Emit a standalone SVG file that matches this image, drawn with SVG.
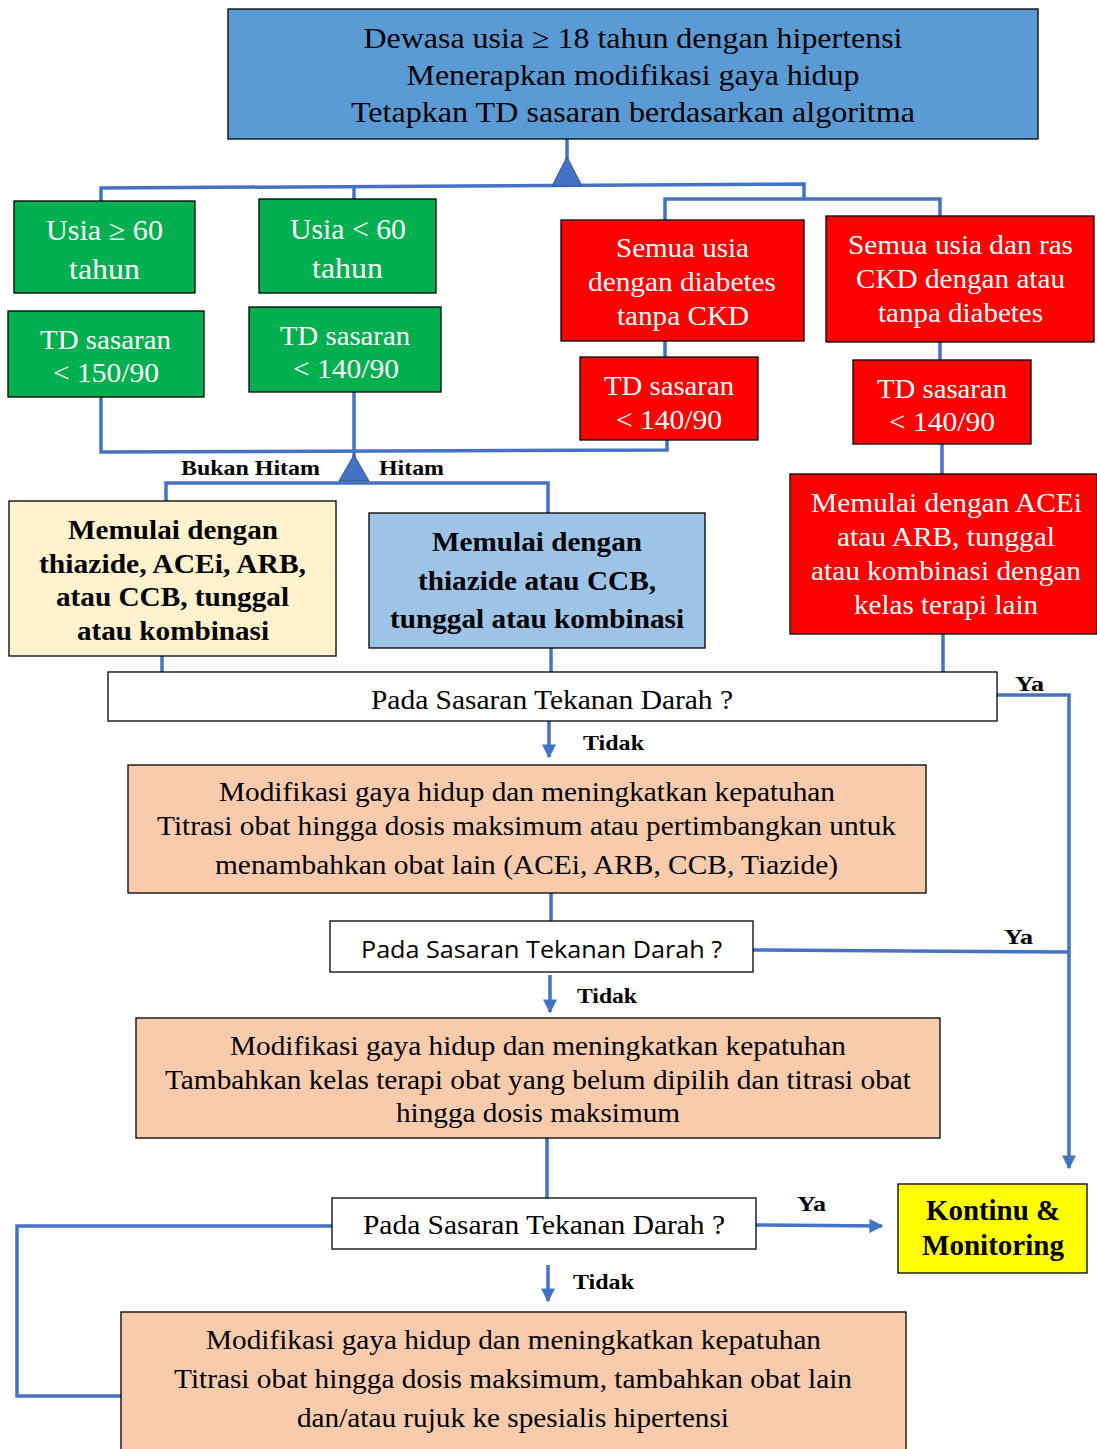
<svg xmlns="http://www.w3.org/2000/svg" width="1097" height="1449" viewBox="0 0 1097 1449">
<style>
.bx{stroke:#000;stroke-width:1.3}
.t{font-family:"Liberation Serif","Times New Roman",serif;text-anchor:middle}
.w{fill:#fff}
.k{fill:#000}
.b{font-weight:bold}
.c{fill:none;stroke:#4472C4;stroke-width:3.5}
.lbl{font-family:"Liberation Serif",serif;font-weight:bold;font-size:21px;fill:#000}
</style>
<defs>
<marker id="ah" viewBox="0 0 10 10" refX="9" refY="5" markerWidth="4" markerHeight="4" orient="auto" markerUnits="strokeWidth">
<path d="M0,0 L10,5 L0,10 z" fill="#4472C4"/>
</marker>
</defs>
<rect width="1097" height="1449" fill="#fff"/>

<g id="connectors">
<line class="c" x1="567" y1="139" x2="567" y2="160"/>
<polyline class="c" points="101,201 101,188 804,184 804,199"/>
<line class="c" x1="354" y1="188" x2="354" y2="199"/>
<polyline class="c" points="665,220 665,199 940,199 940,216"/>
<line class="c" x1="665" y1="341" x2="665" y2="357"/>
<line class="c" x1="940" y1="342" x2="940" y2="360"/>
<line class="c" x1="942" y1="444" x2="942" y2="474"/>
<polyline class="c" points="101,397 101,452 667,450 667,440"/>
<line class="c" x1="354" y1="392" x2="354" y2="458"/>
<polyline class="c" points="166,501 166,483 548,483 548,513"/>
<line class="c" x1="162" y1="656" x2="162" y2="672"/>
<line class="c" x1="551" y1="648" x2="551" y2="672"/>
<line class="c" x1="943" y1="634" x2="943" y2="672"/>
<polyline class="c" points="997,695 1069,695 1069,1168" marker-end="url(#ah)"/>
<line class="c" x1="549" y1="721" x2="549" y2="757" marker-end="url(#ah)"/>
<line class="c" x1="551" y1="893" x2="551" y2="921"/>
<line class="c" x1="753" y1="950" x2="1069" y2="952"/>
<line class="c" x1="550" y1="975" x2="550" y2="1012" marker-end="url(#ah)"/>
<line class="c" x1="547" y1="1138" x2="547" y2="1198"/>
<line class="c" x1="756" y1="1225" x2="882" y2="1226" marker-end="url(#ah)"/>
<polyline class="c" points="332,1226 17,1226 17,1396 121,1396"/>
<line class="c" x1="548" y1="1265" x2="548" y2="1301" marker-end="url(#ah)"/>
<path d="M567,157 L552,186 L582,186 Z" fill="#4472C4" stroke="#2F528F" stroke-width="1"/>
<path d="M354,455 L339,481 L369,481 Z" fill="#4472C4" stroke="#2F528F" stroke-width="1"/>
<text class="lbl" x="181" y="475" textLength="139" lengthAdjust="spacingAndGlyphs">Bukan Hitam</text>
<text class="lbl" x="379" y="475" textLength="65" lengthAdjust="spacingAndGlyphs">Hitam</text>
<text class="lbl" x="1015" y="691" textLength="29" lengthAdjust="spacingAndGlyphs">Ya</text>
<text class="lbl" x="583" y="750" textLength="61" lengthAdjust="spacingAndGlyphs">Tidak</text>
<text class="lbl" x="1004" y="944" textLength="29" lengthAdjust="spacingAndGlyphs">Ya</text>
<text class="lbl" x="577" y="1003" textLength="60" lengthAdjust="spacingAndGlyphs">Tidak</text>
<text class="lbl" x="797" y="1211" textLength="29" lengthAdjust="spacingAndGlyphs">Ya</text>
<text class="lbl" x="573" y="1289" textLength="61" lengthAdjust="spacingAndGlyphs">Tidak</text>
</g>

<g id="top">
<rect class="bx" x="228" y="9" width="810" height="130" fill="#5B9BD5"/>
<text class="t k" font-size="29" x="633" y="48" textLength="539" lengthAdjust="spacingAndGlyphs">Dewasa usia ≥ 18 tahun dengan hipertensi</text>
<text class="t k" font-size="29" x="633" y="85" textLength="453" lengthAdjust="spacingAndGlyphs">Menerapkan modifikasi gaya hidup</text>
<text class="t k" font-size="29" x="633" y="122" textLength="564" lengthAdjust="spacingAndGlyphs">Tetapkan TD sasaran berdasarkan algoritma</text>
</g>

<g id="usia60plus">
<rect class="bx" x="14" y="201" width="181" height="92" fill="#00B050"/>
<text class="t w" font-size="29" x="104.5" y="240" textLength="117" lengthAdjust="spacingAndGlyphs">Usia ≥ 60</text>
<text class="t w" font-size="29" x="104.5" y="279" textLength="71" lengthAdjust="spacingAndGlyphs">tahun</text>
</g>
<g id="usia60minus">
<rect class="bx" x="259" y="199" width="177" height="94" fill="#00B050"/>
<text class="t w" font-size="29" x="348" y="239" textLength="116" lengthAdjust="spacingAndGlyphs">Usia &lt; 60</text>
<text class="t w" font-size="29" x="347.5" y="278" textLength="71" lengthAdjust="spacingAndGlyphs">tahun</text>
</g>
<g id="td150">
<rect class="bx" x="8" y="311" width="196" height="86" fill="#00B050"/>
<text class="t w" font-size="28" x="105.5" y="349" textLength="131" lengthAdjust="spacingAndGlyphs">TD sasaran</text>
<text class="t w" font-size="28" x="106" y="382" textLength="106" lengthAdjust="spacingAndGlyphs">&lt; 150/90</text>
</g>
<g id="td140a">
<rect class="bx" x="249" y="307" width="192" height="85" fill="#00B050"/>
<text class="t w" font-size="28" x="345" y="345" textLength="130" lengthAdjust="spacingAndGlyphs">TD sasaran</text>
<text class="t w" font-size="28" x="346" y="378" textLength="106" lengthAdjust="spacingAndGlyphs">&lt; 140/90</text>
</g>

<g id="diabetes">
<rect class="bx" x="561" y="220" width="243" height="121" fill="#FF0000"/>
<text class="t w" font-size="27" x="682.5" y="257" textLength="133" lengthAdjust="spacingAndGlyphs">Semua usia</text>
<text class="t w" font-size="27" x="682" y="291" textLength="188" lengthAdjust="spacingAndGlyphs">dengan diabetes</text>
<text class="t w" font-size="27" x="683" y="325" textLength="132" lengthAdjust="spacingAndGlyphs">tanpa CKD</text>
</g>
<g id="ckd">
<rect class="bx" x="826" y="216" width="268" height="126" fill="#FF0000"/>
<text class="t w" font-size="27" x="960.5" y="254" textLength="225" lengthAdjust="spacingAndGlyphs">Semua usia dan ras</text>
<text class="t w" font-size="27" x="960.5" y="288" textLength="209" lengthAdjust="spacingAndGlyphs">CKD dengan atau</text>
<text class="t w" font-size="27" x="960.5" y="322" textLength="165" lengthAdjust="spacingAndGlyphs">tanpa diabetes</text>
</g>
<g id="td140b">
<rect class="bx" x="580" y="357" width="178" height="83" fill="#FF0000"/>
<text class="t w" font-size="28" x="669" y="395" textLength="130" lengthAdjust="spacingAndGlyphs">TD sasaran</text>
<text class="t w" font-size="28" x="669" y="429" textLength="106" lengthAdjust="spacingAndGlyphs">&lt; 140/90</text>
</g>
<g id="td140c">
<rect class="bx" x="853" y="360" width="178" height="84" fill="#FF0000"/>
<text class="t w" font-size="28" x="942" y="398" textLength="130" lengthAdjust="spacingAndGlyphs">TD sasaran</text>
<text class="t w" font-size="28" x="942" y="431" textLength="106" lengthAdjust="spacingAndGlyphs">&lt; 140/90</text>
</g>
<g id="acei">
<rect class="bx" x="790" y="474" width="307" height="160" fill="#FF0000"/>
<text class="t w" font-size="28" x="946.5" y="512" textLength="271" lengthAdjust="spacingAndGlyphs">Memulai dengan ACEi</text>
<text class="t w" font-size="28" x="946" y="546" textLength="218" lengthAdjust="spacingAndGlyphs">atau ARB, tunggal</text>
<text class="t w" font-size="28" x="946" y="580" textLength="270" lengthAdjust="spacingAndGlyphs">atau kombinasi dengan</text>
<text class="t w" font-size="28" x="946" y="614" textLength="184" lengthAdjust="spacingAndGlyphs">kelas terapi lain</text>
</g>

<g id="bukanhitam">
<rect class="bx" x="9" y="501" width="327" height="155" fill="#FFF2CC"/>
<text class="t k b" font-size="28" x="173" y="539" textLength="210" lengthAdjust="spacingAndGlyphs">Memulai dengan</text>
<text class="t k b" font-size="28" x="172.5" y="573" textLength="267" lengthAdjust="spacingAndGlyphs">thiazide, ACEi, ARB,</text>
<text class="t k b" font-size="28" x="172.5" y="606" textLength="233" lengthAdjust="spacingAndGlyphs">atau CCB, tunggal</text>
<text class="t k b" font-size="28" x="173" y="640" textLength="192" lengthAdjust="spacingAndGlyphs">atau kombinasi</text>
</g>
<g id="hitam">
<rect class="bx" x="369" y="513" width="336" height="135" fill="#9DC3E6"/>
<text class="t k b" font-size="28" x="537" y="551" textLength="210" lengthAdjust="spacingAndGlyphs">Memulai dengan</text>
<text class="t k b" font-size="28" x="537" y="590" textLength="238" lengthAdjust="spacingAndGlyphs">thiazide atau CCB,</text>
<text class="t k b" font-size="28" x="537" y="628" textLength="294" lengthAdjust="spacingAndGlyphs">tunggal atau kombinasi</text>
</g>

<g id="q1">
<rect class="bx" x="108" y="672" width="889" height="49" fill="#fff"/>
<text class="t k" font-size="27" x="552" y="709" textLength="362" lengthAdjust="spacingAndGlyphs">Pada Sasaran Tekanan Darah ?</text>
</g>
<g id="step1">
<rect class="bx" x="128" y="765" width="798" height="128" fill="#F8CBAD"/>
<text class="t k" font-size="27" x="527" y="801" textLength="616" lengthAdjust="spacingAndGlyphs">Modifikasi gaya hidup dan meningkatkan kepatuhan</text>
<text class="t k" font-size="27" x="526.5" y="835" textLength="739" lengthAdjust="spacingAndGlyphs">Titrasi obat hingga dosis maksimum atau pertimbangkan untuk</text>
<text class="t k" font-size="27" x="526.5" y="874" textLength="623" lengthAdjust="spacingAndGlyphs">menambahkan obat lain (ACEi, ARB, CCB, Tiazide)</text>
</g>
<g id="q2">
<rect class="bx" x="330" y="921" width="423" height="51" fill="#fff"/>
<text class="k" font-family="'Open Sans','Noto Sans',sans-serif" font-size="24" text-anchor="middle" x="541.5" y="958" textLength="361" lengthAdjust="spacingAndGlyphs">Pada Sasaran Tekanan Darah ?</text>
</g>
<g id="step2">
<rect class="bx" x="136" y="1018" width="804" height="120" fill="#F8CBAD"/>
<text class="t k" font-size="27" x="538" y="1055" textLength="616" lengthAdjust="spacingAndGlyphs">Modifikasi gaya hidup dan meningkatkan kepatuhan</text>
<text class="t k" font-size="27" x="538" y="1089" textLength="746" lengthAdjust="spacingAndGlyphs">Tambahkan kelas terapi obat yang belum dipilih dan titrasi obat</text>
<text class="t k" font-size="27" x="538" y="1122" textLength="284" lengthAdjust="spacingAndGlyphs">hingga dosis maksimum</text>
</g>
<g id="q3">
<rect class="bx" x="332" y="1198" width="424" height="51" fill="#fff"/>
<text class="t k" font-size="27" x="544" y="1234" textLength="362" lengthAdjust="spacingAndGlyphs">Pada Sasaran Tekanan Darah ?</text>
</g>
<g id="kontinu">
<rect class="bx" x="898" y="1184" width="189" height="89" fill="#FFFF00"/>
<text class="t k b" font-size="29" x="993" y="1220" textLength="134" lengthAdjust="spacingAndGlyphs">Kontinu &amp;</text>
<text class="t k b" font-size="29" x="993" y="1255" textLength="142" lengthAdjust="spacingAndGlyphs">Monitoring</text>
</g>
<g id="step3">
<rect class="bx" x="121" y="1312" width="785" height="145" fill="#F8CBAD"/>
<text class="t k" font-size="27" x="513.5" y="1349" textLength="615" lengthAdjust="spacingAndGlyphs">Modifikasi gaya hidup dan meningkatkan kepatuhan</text>
<text class="t k" font-size="27" x="513" y="1388" textLength="678" lengthAdjust="spacingAndGlyphs">Titrasi obat hingga dosis maksimum, tambahkan obat lain</text>
<text class="t k" font-size="27" x="513" y="1427" textLength="432" lengthAdjust="spacingAndGlyphs">dan/atau rujuk ke spesialis hipertensi</text>
</g>
</svg>
